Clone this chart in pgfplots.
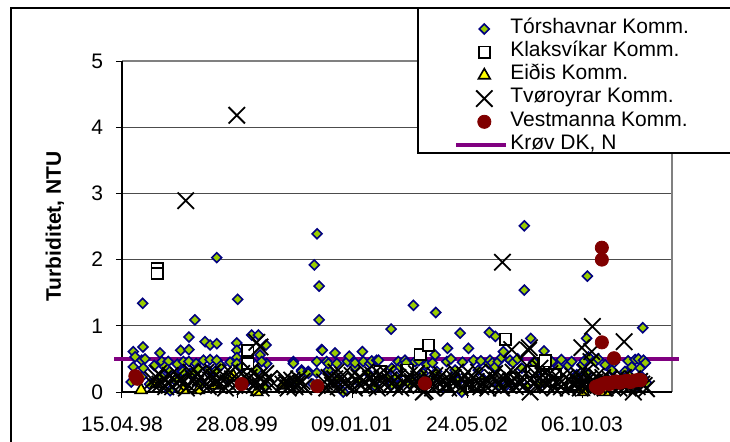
\documentclass[border=0pt]{standalone}
\usepackage{fontspec}
\setmainfont{Liberation Sans}
\usepackage{pgfplots}
\pgfplotsset{compat=1.18}
\definecolor{tNavy}{HTML}{000080}
\definecolor{tLime}{HTML}{99CC00}
\definecolor{vRed}{HTML}{800000}
\definecolor{kPurple}{HTML}{800080}
\definecolor{eYellow}{HTML}{FFFF00}
\definecolor{xlGray}{HTML}{808080}
\newcommand{\chartfont}{\fontsize{10.5}{12}\selectfont}

\begin{document}
\begin{tikzpicture}
\begin{axis}[
  scale only axis, width=275pt, height=165.5pt,
  xmin=0, xmax=2391, ymin=0, ymax=5,
  clip=false,
  axis line style={draw=none},
  xtick={0,500,1000,1500,2000},
  xticklabels={15.04.98,28.08.99,09.01.01,24.05.02,06.10.03},
  ytick={0,1,2,3,4,5},
  tick align=outside, major tick length=3pt,
  xtick pos=bottom, ytick pos=left,
  tick style={black, line width=0.5pt},
  ymajorgrids, grid style={black!70, line width=0.5pt},
  tick label style={font=\chartfont, /pgf/number format/assume math mode=true},
  xticklabel style={yshift=-6pt},
  yticklabel style={xshift=-3pt},
  ylabel={\bfseries Turbiditet, NTU},
  label style={font=\chartfont},
  ylabel style={at={(axis description cs:-0.1218,0.5)}, anchor=center},
  legend style={draw=none, fill=none, at={(axis description cs:0.6035,1.133)},
    anchor=north west, inner sep=0pt, row sep=0pt, column sep=1pt,
    font=\chartfont, nodes={inner sep=0pt, text height=8pt, text depth=3.6pt}},
  legend cell align=left,
  legend image code/.code={\path[draw=none] (0pt,0pt) -- (25pt,0pt);
    \draw[only marks,#1] plot coordinates {(14pt,0pt)};},
]
% plot area border and axes
\draw[xlGray, line width=1pt] (rel axis cs:0,1) -- (rel axis cs:1,1) -- (rel axis cs:1,0);
\draw[black, line width=0.6pt] (rel axis cs:0,1) -- (rel axis cs:0,0) -- (rel axis cs:1,0);

% limit line (drawn under the markers)
\addplot[kPurple, line width=2pt, forget plot] coordinates {(-33,0.5) (2422,0.5)};

% Torshavnar
\addplot[only marks, mark=square*, mark size=1.75pt,
  mark options={rotate=45, draw=tNavy, fill=tLime, line width=0.8pt}] coordinates {
(49,0.61) (57,0.53) (49,0.38) (86,0.48) (93,0.36) (86,0.23) (90,1.34) (91,0.68)
(40,0.15) (100,0.50) (120,0.12) (140,0.40) (165,0.59) (173,0.46) (201,0.46) (201,0.33)
(173,0.23) (185,0.38) (209,0.02) (230,0.18) (240,0.42) (255,0.63) (291,0.64) (291,0.83)
(317,1.09) (267,0.46) (291,0.46) (322,0.43) (260,0.31) (296,0.28) (264,0.31) (303,0.28)
(330,0.36) (340,0.10) (361,0.76) (383,0.71) (412,0.73) (354,0.48) (383,0.49) (412,0.48)
(375,0.33) (404,0.31) (412,2.03) (430,0.40) (450,0.21) (470,0.45) (499,0.74) (499,0.63)
(499,0.52) (499,0.43) (503,1.40) (520,0.38) (540,0.14) (560,0.48) (564,0.86) (593,0.86)
(600,0.56) (626,0.71) (629,0.43) (607,0.46) (586,0.33) (620,0.08) (745,0.46) (745,0.43)
(760,0.17) (781,0.33) (781,0.31) (810,0.31) (810,0.28) (830,0.12) (836,1.92) (848,2.39)
(857,1.60) (857,1.09) (847,0.46) (847,0.29) (868,0.64) (871,0.63) (890,0.46) (897,0.33)
(897,0.43) (926,0.59) (934,0.43) (940,0.20) (955,0.03) (962,0.00) (980,0.46) (988,0.54)
(1013,0.38) (1013,0.44) (1030,0.15) (1045,0.61) (1049,0.46) (1071,0.28) (1078,0.43)
(1086,0.47) (1100,0.09) (1107,0.48) (1115,0.48) (1160,0.22) (1170,0.95) (1173,0.36)
(1173,0.11) (1194,0.23) (1201,0.46) (1209,0.38) (1209,0.11) (1220,0.42) (1230,0.48)
(1235,0.44) (1250,0.12) (1260,0.18) (1267,1.31) (1274,0.46) (1290,0.47) (1310,0.28)
(1325,0.41) (1340,0.17) (1350,0.44) (1361,0.56) (1364,1.20) (1368,0.31) (1400,0.08)
(1412,0.46) (1415,0.66) (1430,0.50) (1448,0.26) (1448,0.33) (1460,0.16) (1470,0.89)
(1477,0.00) (1480,0.45) (1506,0.66) (1520,0.12) (1528,0.48) (1549,0.33) (1560,0.47)
(1570,0.20) (1593,0.43) (1597,0.90) (1600,0.48) (1610,0.44) (1622,0.38) (1623,0.84)
(1636,0.46) (1640,0.10) (1650,0.52) (1658,0.61) (1665,0.08) (1687,0.48) (1687,0.18)
(1700,0.44) (1710,0.15) (1720,0.50) (1738,0.36) (1749,2.51) (1749,1.54) (1760,0.08)
(1774,0.33) (1777,0.81) (1790,0.45) (1796,0.28) (1820,0.13) (1835,0.62) (1850,0.42)
(1853,0.23) (1868,0.46) (1880,0.17) (1897,0.38) (1910,0.49) (1930,0.10) (1940,0.40)
(1955,0.46) (1977,0.26) (1990,0.14) (1999,0.41) (2010,0.47) (2020,0.81) (2020,0.28)
(2023,1.75) (2028,0.53) (2050,0.12) (2057,0.46) (2070,0.50) (2078,0.18) (2100,0.41)
(2110,0.08) (2129,0.33) (2140,0.45) (2170,0.15) (2187,0.31) (2200,0.47) (2201,0.26)
(2216,0.38) (2231,0.49) (2240,0.10) (2245,0.50) (2252,0.36) (2260,0.23) (2264,0.97)
(2267,0.48) (2275,0.44) (2280,0.14)};
\addlegendentry{Tórshavnar Komm.}

% Klaksvik
\addplot[only marks, mark=square*, mark size=2.8pt,
  mark options={draw=black, fill=white, line width=0.9pt}] coordinates {
(153,1.87) (153,1.79) (547,0.63) (547,0.43) (1122,0.31) (1238,0.32) (1242,0.33)
(1296,0.57) (1332,0.71) (1400,0.12) (1520,0.09) (1542,0.09) (1549,0.11) (1668,0.80)
(1700,0.20) (1781,0.31) (1832,0.43) (1839,0.47) (1847,0.23) (1874,0.18) (1883,0.26)
(1912,0.15) (1960,0.12) (2000,0.10)};
\addlegendentry{Klaksvíkar Komm.}

% Eidis
\addplot[only marks, mark=triangle*, mark size=3.4pt,
  mark options={draw=black, fill=eYellow, line width=0.8pt}] coordinates {
(83,0.03) (150,0.12) (267,0.03) (332,0.03) (404,0.10) (484,0.24) (586,0.00)
(700,0.10) (1995,0.05) (2006,0.00) (2100,0.00)};
\addlegendentry{Eiðis Komm.}

% Tvoroyrar
\addplot[only marks, mark=x, mark size=5.8pt,
  mark options={draw=black, line width=0.9pt}] coordinates {
(277,2.89) (499,4.18) (1654,1.96) (2045,0.99) (2183,0.76) (1999,0.67) (1694,0.64)
(1771,0.67) (586,0.75) (600,0.68) (2042,0.61) (2039,0.46) (1767,0.63) (1817,0.36)
(1803,0.18) (1774,0.00) (2223,0.00) (1310,0.00) (1317,0.02)
(135,0.18) (150,0.22) (165,0.12) (180,0.20) (200,0.15) (220,0.08) (245,0.25) (270,0.16)
(290,0.10) (310,0.20) (330,0.28) (350,0.12) (365,0.30) (385,0.18) (400,0.22) (420,0.10)
(440,0.26) (460,0.14) (480,0.20) (520,0.28) (545,0.18) (560,0.32) (575,0.10) (595,0.24)
(615,0.15) (640,0.20) (700,0.12) (715,0.14) (730,0.10) (745,0.15) (760,0.12) (775,0.13)
(790,0.08) (880,0.15) (900,0.22) (915,0.10) (930,0.30) (950,0.18) (970,0.12) (1000,0.25)
(1020,0.16) (1040,0.10) (1060,0.30) (1080,0.20) (1100,0.14) (1120,0.27) (1140,0.12)
(1160,0.18) (1185,0.08) (1200,0.22) (1225,0.14) (1250,0.26) (1270,0.10) (1290,0.20)
(1340,0.15) (1360,0.25) (1380,0.12) (1400,0.18) (1420,0.06) (1440,0.22) (1460,0.12)
(1480,0.20) (1500,0.10) (1520,0.25) (1540,0.16) (1560,0.08) (1580,0.20) (1600,0.14)
(1620,0.28) (1640,0.12) (1660,0.20) (1680,0.10) (1700,0.30) (1720,0.15) (1740,0.22)
(1760,0.40) (1790,0.12) (1830,0.25) (1850,0.10) (1870,0.20) (1890,0.14) (1910,0.08)
(1930,0.22) (1950,0.16) (1970,0.10) (1985,0.25) (2000,0.12) (2015,0.30) (2030,0.20)
(2055,0.15) (2070,0.10) (2090,0.22) (2110,0.14) (2130,0.08) (2150,0.20) (2170,0.12)
(2190,0.10) (2210,0.15) (2240,0.08) (2260,0.12) (2280,0.05)
(140,0.10) (158,0.28) (190,0.08) (210,0.25) (235,0.14) (255,0.18) (280,0.06) (300,0.30)
(320,0.12) (340,0.22) (375,0.08) (395,0.30) (410,0.16) (430,0.20) (450,0.06) (470,0.30)
(490,0.10) (510,0.16) (535,0.08) (553,0.22) (585,0.16) (605,0.06) (625,0.28) (650,0.10)
(708,0.20) (722,0.06) (738,0.18) (752,0.08) (768,0.20) (783,0.16) (890,0.06) (908,0.16)
(925,0.20) (940,0.08) (960,0.26) (985,0.10) (1010,0.06) (1030,0.22) (1050,0.18) (1070,0.08)
(1090,0.26) (1110,0.06) (1130,0.20) (1150,0.28) (1175,0.14) (1212,0.06) (1237,0.20)
(1262,0.16) (1280,0.28) (1300,0.10) (1330,0.22) (1350,0.06) (1370,0.18) (1390,0.26)
(1410,0.12) (1430,0.16) (1450,0.30) (1470,0.06) (1490,0.26) (1510,0.16) (1530,0.08)
(1550,0.30) (1570,0.14) (1590,0.06) (1610,0.22) (1630,0.18) (1650,0.06) (1670,0.26)
(1690,0.16) (1710,0.08) (1730,0.12) (1750,0.10) (1780,0.20) (1810,0.08) (1840,0.14)
(1860,0.28) (1880,0.06) (1900,0.20) (1920,0.12) (1940,0.06) (1960,0.24) (1978,0.16)
(1992,0.06) (2008,0.18) (2022,0.08) (2040,0.14) (2062,0.24) (2080,0.16) (2100,0.06)
(2120,0.20) (2140,0.16) (2160,0.06) (2180,0.22) (2200,0.06) (2220,0.20) (2250,0.16)
(2270,0.10)};
\addlegendentry{Tvøroyrar Komm.}

% Vestmanna
\addplot[only marks, mark=*, mark size=3.3pt,
  mark options={draw=vRed, fill=vRed}] coordinates {
(58,0.24) (66,0.20) (520,0.12) (849,0.09) (1317,0.13) (2086,2.18) (2086,2.00)
(2086,0.75) (2139,0.51) (2060,0.08) (2071,0.06) (2075,0.10) (2090,0.12) (2105,0.14)
(2120,0.12) (2135,0.15) (2150,0.16) (2165,0.14) (2180,0.16) (2195,0.17) (2210,0.15)
(2225,0.17) (2240,0.18) (2255,0.18)};
\addlegendentry{Vestmanna Komm.}

\addlegendimage{legend image code/.code={\draw[kPurple, line width=2pt] (0pt,0pt) -- (25pt,0pt);}}
\addlegendentry{Krøv DK, N}

% legend box and chart border
\draw[black, line width=0.6pt, fill=white] (rel axis cs:0.5382,1.1601) rectangle (rel axis cs:1.3,0.7221);
\draw[black, line width=0.6pt] (rel axis cs:-0.2018,-0.3) -- (rel axis cs:-0.2018,1.1601) -- (rel axis cs:1.3,1.1601);
\end{axis}
\pgfresetboundingbox
\path[use as bounding box] (-61pt,-24.5pt) rectangle (304pt,196pt);
\end{tikzpicture}
\end{document}
